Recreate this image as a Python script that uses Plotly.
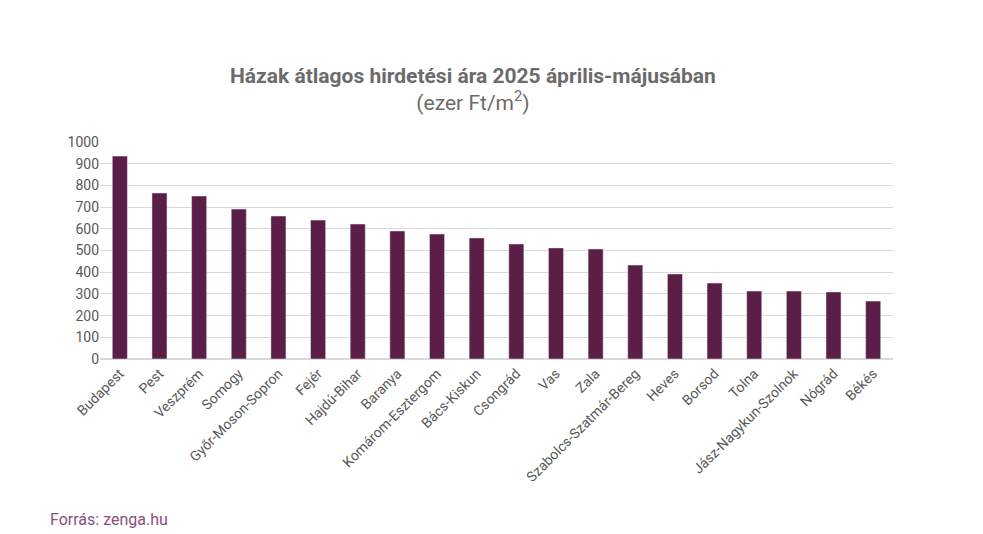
import plotly.graph_objects as go

categories = ["Budapest","Pest","Veszprém","Somogy","Győr-Moson-Sopron","Fejér","Hajdú-Bihar","Baranya",
              "Komárom-Esztergom","Bács-Kiskun","Csongrád","Vas","Zala","Szabolcs-Szatmár-Bereg","Heves",
              "Borsod","Tolna","Jász-Nagykun-Szolnok","Nógrád","Békés"]
values = [935,765,751,691,659,640,622,590,576,558,530,512,507,433,392,350,313,313,309,267]
yticks = list(range(0,1001,100))

fig = go.Figure(go.Bar(x=categories, y=values, marker_color="#5b1f47", width=0.38))
fig.update_layout(
    width=983, height=534, plot_bgcolor="white", paper_bgcolor="white",
    margin=dict(l=92, r=98, t=134, b=183, autoexpand=False),
    font=dict(family="Roboto, Lato, sans-serif", color="#595959", size=14),
    title=dict(text="<b>Házak átlagos hirdetési ára 2025 április-májusában</b><br>(ezer Ft/m<sup>2</sup>)",
               x=0.473, xanchor="center", y=0.86, yanchor="middle", font=dict(size=21, color="#6b6b6b")),
    showlegend=False,
)
fig.update_yaxes(range=[0,1000], tickvals=yticks, gridcolor="#d9d9d9", zeroline=True, zerolinecolor="#d9d9d9",
                 ticks="", tickfont=dict(size=14, color="#595959"))
fig.update_xaxes(tickangle=-45, tickfont=dict(size=14, color="#595959"), showline=True, linecolor="#d9d9d9")
fig.add_annotation(text="Forrás: zenga.hu", xref="paper", yref="paper", x=-0.065, y=-0.74,
                   xanchor="left", yanchor="middle", showarrow=False, font=dict(size=16, color="#8a4f7d"))
fig.write_html("out.html")
